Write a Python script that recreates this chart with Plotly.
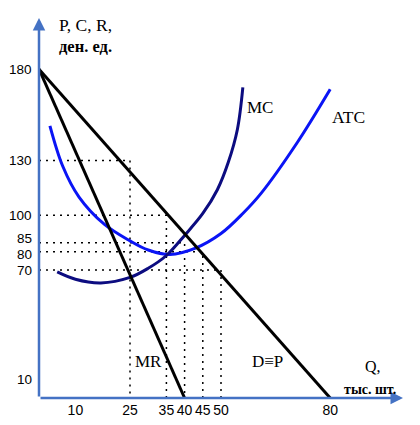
import plotly.graph_objs as go

# axis ticks
x_ticks = [10, 25, 35, 40, 45, 50, 80]
y_ticks = [10, 70, 80, 85, 100, 130, 180]

# demand and marginal revenue (straight lines)
demand_q = [0, 80]
demand_p = [180, 0]
mr_q = [0, 40]
mr_p = [180, 0]

# marginal cost curve
mc_q = [5, 10, 17, 25, 30, 35, 40, 45, 49, 52, 54.5, 56]
mc_p = [69, 65, 63, 66, 71, 78, 89, 101, 114, 129, 147, 170]

# average total cost curve
atc_q = [3, 6.5, 11, 18, 25, 30, 36, 43, 50, 56, 61, 71, 80]
atc_p = [149, 127, 110, 95, 86, 81, 78.5, 82, 90, 101, 112, 140, 169]

# dotted guide corners (Q, P)
guide_q = [25, 35, 40, 45, 50]
guide_p = [130, 100, 85, 80, 70]

AXIS_COLOR = '#4472c4'
SERIF = 'Liberation Serif, Times New Roman, serif'
SANS = 'Liberation Sans, Arial, sans-serif'

fig = go.Figure()

# dotted guides: horizontal from the P axis, then down to the Q axis
gx, gy = [], []
for q, p in zip(guide_q, guide_p):
    gx += [0, q, q, None]
    gy += [p, p, 0, None]

fig.add_trace(go.Scatter(
    x=gx, y=gy, mode='lines',
    line=dict(color='black', width=1.5, dash='2px,5px'),
    hoverinfo='skip', cliponaxis=False
))

fig.add_trace(go.Scatter(
    x=atc_q, y=atc_p, mode='lines', name='ATC',
    line=dict(color='#0a14f5', width=3, shape='spline', smoothing=1),
    cliponaxis=False
))

fig.add_trace(go.Scatter(
    x=mc_q, y=mc_p, mode='lines', name='MC',
    line=dict(color='#0c0c80', width=3, shape='spline', smoothing=1),
    cliponaxis=False
))

fig.add_trace(go.Scatter(
    x=demand_q, y=demand_p, mode='lines', name='D',
    line=dict(color='black', width=3),
    cliponaxis=False
))

fig.add_trace(go.Scatter(
    x=mr_q, y=mr_p, mode='lines', name='MR',
    line=dict(color='black', width=3),
    cliponaxis=False
))

annotations = [
    # axis arrows
    dict(x=100, y=0, ax=0, ay=0, xref='x', yref='y', axref='x', ayref='y',
         text='', showarrow=True, arrowhead=2, arrowsize=1, arrowwidth=2.5,
         arrowcolor=AXIS_COLOR),
    dict(x=0, y=208, ax=0, ay=0, xref='x', yref='y', axref='x', ayref='y',
         text='', showarrow=True, arrowhead=2, arrowsize=1, arrowwidth=2.5,
         arrowcolor=AXIS_COLOR),
]

# price tick labels, drawn as annotations so 85 and 80 can be nudged apart
label_nudge = {85: 4, 80: -3}
for v in y_ticks:
    annotations.append(dict(
        x=0, y=v, xref='x', yref='y', showarrow=False, text=str(v),
        xanchor='right', yanchor='middle', xshift=-5, yshift=label_nudge.get(v, 0),
        font=dict(family=SANS, size=13.5, color='black')
    ))

labels = [
    (56.6, 159, 'MC', 17, False),
    (80, 154, 'ATC', 17.5, False),
    (25.8, 20, 'MR', 17, False),
    (58, 20, 'D≡P', 17, False),
    (89, 17.5, 'Q,', 16, False),
    (83.2, 4.4, 'тыс. шт.', 14, True),
    (4.9, 204, 'P, C, R,', 17.5, False),
    (4.9, 192.5, 'ден. ед.', 16.5, True),
]
for x, y, text, size, bold in labels:
    annotations.append(dict(
        x=x, y=y, xref='x', yref='y', showarrow=False,
        text=f'<b>{text}</b>' if bold else text,
        xanchor='left', yanchor='middle',
        font=dict(family=SERIF, size=size, color='black')
    ))

# the page adds an 8px body margin, so the figure is a little smaller
fig.update_layout(
    width=412, height=417,
    margin=dict(l=31, r=17, t=10, b=27),
    paper_bgcolor='white', plot_bgcolor='white',
    showlegend=False,
    annotations=annotations,
    xaxis=dict(
        range=[0, 100], showgrid=False, zeroline=False, showline=False,
        tickvals=x_ticks, ticktext=[str(v) for v in x_ticks], tickangle=0,
        ticks='', ticklabelstandoff=2, automargin=False,
        tickfont=dict(family=SANS, size=14, color='black')
    ),
    yaxis=dict(
        range=[0, 208], showgrid=False, zeroline=False, showline=False,
        showticklabels=False, automargin=False
    ),
)

fig.write_html("out.html")
